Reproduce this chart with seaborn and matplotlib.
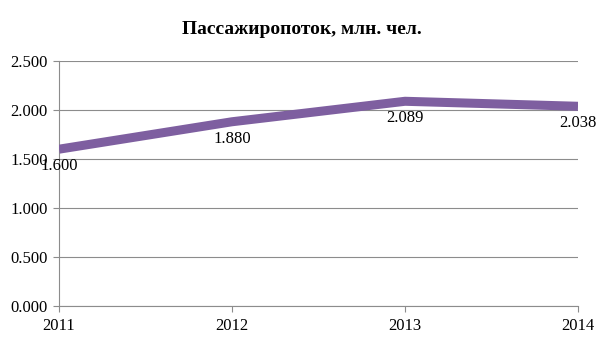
import matplotlib
matplotlib.use("Agg")
import matplotlib.pyplot as plt
import seaborn as sns
import pandas as pd
from matplotlib.ticker import FuncFormatter, FixedLocator

years = [2011, 2012, 2013, 2014]
values = [1.600, 1.880, 2.089, 2.038]
value_labels = ["1.600", "1.880", "2.089", "2.038"]
title = "Пассажиропоток, млн. чел."

sns.set_theme(style="white")
plt.rcParams['font.family'] = ['Liberation Serif', 'DejaVu Serif']

df = pd.DataFrame({"year": years, "value": values})

fig = plt.figure(figsize=(6.05, 3.4), dpi=100)
ax = fig.add_axes([59/605, 34/340, (578-59)/605, (306-61)/340])

sns.lineplot(data=df, x="year", y="value", ax=ax, color="#7E5FA0",
             linewidth=6.5, solid_capstyle="butt", solid_joinstyle="round", zorder=3)

ax.set_xlim(2011, 2014)
ax.set_ylim(0, 2.5)
ax.xaxis.set_major_locator(FixedLocator(years))
ax.set_xticklabels([str(y) for y in years])
ax.yaxis.set_major_locator(FixedLocator([0, 0.5, 1.0, 1.5, 2.0, 2.5]))
ax.yaxis.set_major_formatter(FuncFormatter(lambda v, p: f"{v:.3f}"))
ax.set_xlabel("")
ax.set_ylabel("")

ax.grid(axis="y", color="#8c8c8c", linewidth=0.8)
ax.grid(axis="x", visible=False)
for s in ["top", "right"]:
    ax.spines[s].set_visible(False)
for s in ["left", "bottom"]:
    ax.spines[s].set_visible(True)
    ax.spines[s].set_color("#8c8c8c")
    ax.spines[s].set_linewidth(0.8)
ax.tick_params(axis="both", which="both", direction="out", length=4, width=0.8,
               color="#8c8c8c", labelsize=12, labelcolor="black")
ax.tick_params(axis="x", pad=5, bottom=True)
ax.tick_params(axis="y", pad=4, left=True)

for x, y, lab in zip(years, values, value_labels):
    ax.annotate(lab, (x, y), xytext=(0, -17), textcoords="offset pixels",
                ha="center", va="center", fontsize=12, color="black",
                annotation_clip=False, zorder=4)

fig.text(302/605, 1 - 29/340, title, ha="center", va="center",
         fontsize=14, fontweight="bold", color="black")

fig.savefig("out.png", dpi=100)
